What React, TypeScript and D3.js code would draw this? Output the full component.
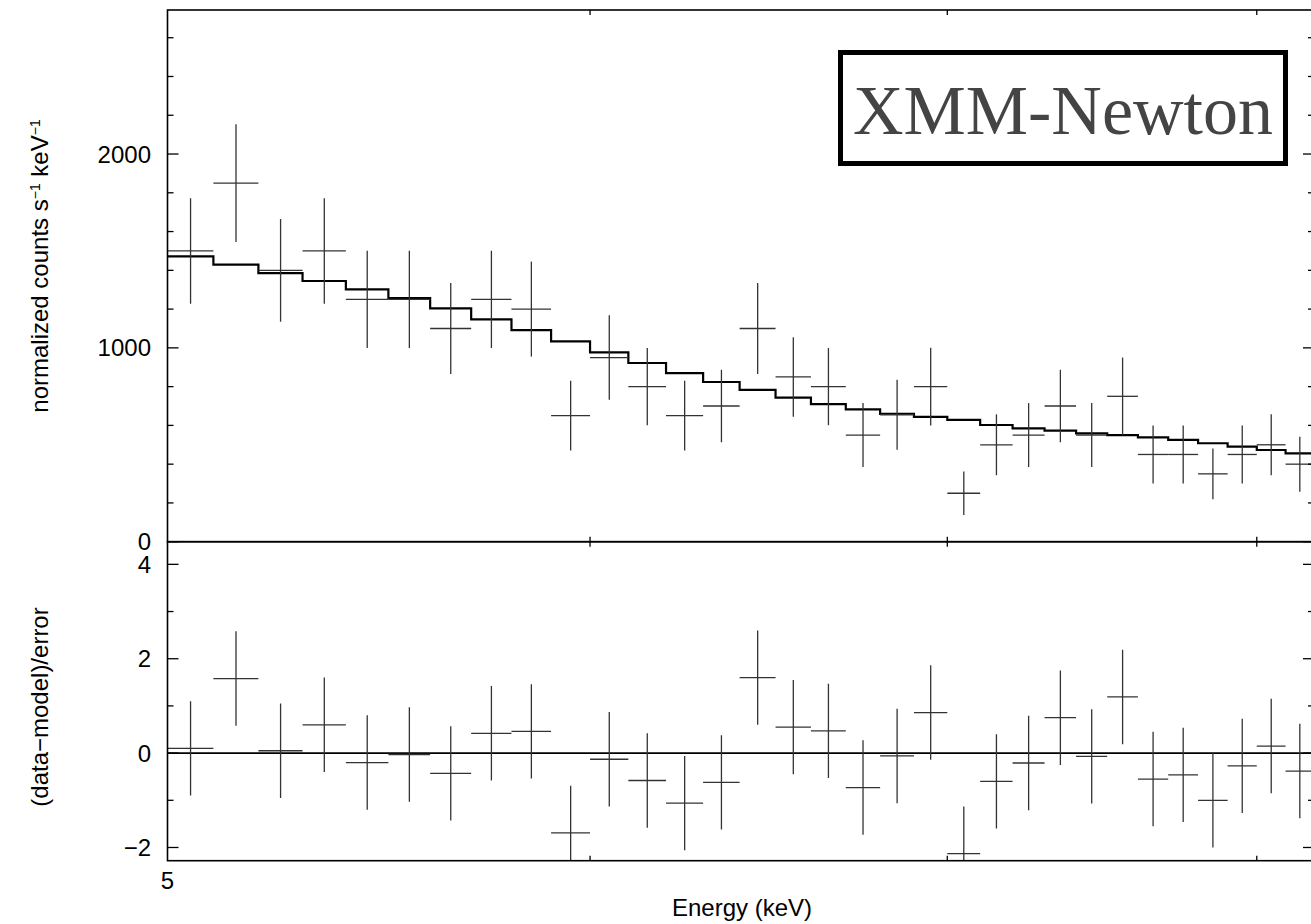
import React from "react";
import * as d3 from "d3";

// ---- data ----
const binCenters = [5.05, 5.15, 5.25, 5.35, 5.45, 5.55, 5.65, 5.75, 5.85, 5.95, 6.05, 6.15, 6.25, 6.35, 6.45, 6.55, 6.65, 6.75, 6.85, 6.95, 7.05, 7.15, 7.25, 7.35, 7.45, 7.55, 7.65, 7.75, 7.85, 7.95, 8.05, 8.15];
const binHalfWidth = 0.05;
const counts = [1500, 1850, 1400, 1500, 1250, 1250, 1100, 1250, 1200, 650, 950, 800, 650, 700, 1100, 850, 800, 550, 655, 800, 250, 500, 550, 700, 550, 750, 450, 450, 350, 450, 500, 400];
const countErr = [272, 304, 265, 272, 251, 251, 235, 251, 245, 180, 218, 199, 180, 187, 235, 205, 199, 165, 180, 200, 112, 157, 165, 187, 165, 200, 150, 150, 131, 150, 157, 142];
const model = [1472, 1429, 1386, 1345, 1302, 1257, 1204, 1147, 1092, 1033, 977, 922, 870, 824, 783, 743, 710, 683, 659, 644, 628, 602, 585, 573, 559, 550, 538, 525, 508, 490, 473, 456];
const residuals = [0.1, 1.58, 0.05, 0.6, -0.2, -0.03, -0.43, 0.42, 0.46, -1.69, -0.13, -0.58, -1.06, -0.62, 1.6, 0.55, 0.47, -0.73, -0.06, 0.86, -2.13, -0.6, -0.21, 0.75, -0.07, 1.19, -0.55, -0.46, -1.0, -0.27, 0.15, -0.38];
const residualErr = 1;

const xDomain = [5, 8.2];
const topDomain = [0, 2743];
const botDomain = [-2.28, 4.48];
const topMajor = [0, 1000, 2000];
const topMinor = [200, 400, 600, 800, 1200, 1400, 1600, 1800, 2200, 2400, 2600];
const botMajor = [-2, 0, 2, 4];
const botMinor = [-1, 1, 3];
const botLabels = ["−2", "0", "2", "4"];
const xTicks = [6, 7, 8];
const xLabelTicks = [5];

const W = 1311;
const H = 924;
const L = 167.5;
const R = 1314;
const T = 10;
const MID = 541.7;
const B = 860.7;

const x = d3.scaleLog().domain(xDomain).range([L, R]);
const yTop = d3.scaleLinear().domain(topDomain).range([MID, T]);
const yBot = d3.scaleLinear().domain(botDomain).range([B, MID]);

const FONT = "'Liberation Sans', Arial, Helvetica, sans-serif";
const FS = 24;

export default function App() {
  const stepPts: [number, number][] = binCenters.map((c, i) => [c - binHalfWidth, model[i]]);
  stepPts.push([binCenters[binCenters.length - 1] + binHalfWidth, model[model.length - 1]]);
  const stepLine = d3
    .line<[number, number]>()
    .x((d) => x(d[0]))
    .y((d) => yTop(d[1]))
    .curve(d3.curveStepAfter);

  const crossStroke = "#333";
  const crossW = 1.3;

  const yTicks = (
    scale: d3.ScaleLinear<number, number>,
    major: number[],
    minor: number[]
  ) => (
    <g stroke="#000" strokeWidth={1.3}>
      {major.map((v) => (
        <g key={"M" + v}>
          <line x1={L} x2={L + 11} y1={scale(v)} y2={scale(v)} />
          <line x1={R} x2={R - 11} y1={scale(v)} y2={scale(v)} />
        </g>
      ))}
      {minor.map((v) => (
        <g key={"m" + v}>
          <line x1={L} x2={L + 6} y1={scale(v)} y2={scale(v)} />
          <line x1={R} x2={R - 6} y1={scale(v)} y2={scale(v)} />
        </g>
      ))}
    </g>
  );

  const xTickMarks = (
    <g stroke="#000" strokeWidth={1.3}>
      {xTicks.map((v) => (
        <g key={v}>
          <line x1={x(v)} x2={x(v)} y1={T} y2={T + 5} />
          <line x1={x(v)} x2={x(v)} y1={MID} y2={MID - 5} />
          <line x1={x(v)} x2={x(v)} y1={MID} y2={MID + 5} />
          <line x1={x(v)} x2={x(v)} y1={B} y2={B - 5} />
        </g>
      ))}
    </g>
  );

  return (
    <svg
      width={W}
      height={H}
      style={{ position: "absolute", left: 0, top: 0, background: "#fff" }}
      fontFamily={FONT}
    >
      <defs>
        <clipPath id="clipTop">
          <rect x={L} y={T} width={R - L} height={MID - T} />
        </clipPath>
        <clipPath id="clipBot">
          <rect x={L} y={MID} width={R - L} height={B - MID} />
        </clipPath>
      </defs>
      <rect x={0} y={0} width={W} height={H} fill="#fff" />

      {/* top panel data */}
      <g clipPath="url(#clipTop)">
        <path d={stepLine(stepPts) || ""} fill="none" stroke="#000" strokeWidth={2.2} />
        <g stroke={crossStroke} strokeWidth={crossW}>
          {binCenters.map((c, i) => (
            <g key={i}>
              <line x1={x(c - binHalfWidth)} x2={x(c + binHalfWidth)} y1={yTop(counts[i])} y2={yTop(counts[i])} />
              <line x1={x(c)} x2={x(c)} y1={yTop(counts[i] - countErr[i])} y2={yTop(counts[i] + countErr[i])} />
            </g>
          ))}
        </g>
      </g>

      {/* bottom panel data */}
      <g clipPath="url(#clipBot)">
        <line x1={L} x2={R} y1={yBot(0)} y2={yBot(0)} stroke="#000" strokeWidth={1.6} />
        <g stroke={crossStroke} strokeWidth={crossW}>
          {binCenters.map((c, i) => (
            <g key={i}>
              <line x1={x(c - binHalfWidth)} x2={x(c + binHalfWidth)} y1={yBot(residuals[i])} y2={yBot(residuals[i])} />
              <line x1={x(c)} x2={x(c)} y1={yBot(residuals[i] - residualErr)} y2={yBot(residuals[i] + residualErr)} />
            </g>
          ))}
        </g>
      </g>

      {/* frames */}
      <rect x={L} y={T} width={R - L} height={MID - T} fill="none" stroke="#000" strokeWidth={1.6} />
      <rect x={L} y={MID} width={R - L} height={B - MID} fill="none" stroke="#000" strokeWidth={1.6} />
      {yTicks(yTop, topMajor, topMinor)}
      {yTicks(yBot, botMajor, botMinor)}
      {xTickMarks}

      {/* tick labels */}
      <g fontSize={FS} fill="#000" textAnchor="end" dominantBaseline="central">
        {topMajor.map((v) => (
          <text key={"t" + v} x={151} y={yTop(v)}>
            {String(v)}
          </text>
        ))}
        {botMajor.map((v, i) => (
          <text key={"b" + v} x={151} y={yBot(v)}>
            {botLabels[i]}
          </text>
        ))}
      </g>
      <g fontSize={FS} fill="#000" textAnchor="middle" dominantBaseline="central">
        {xLabelTicks.map((v) => (
          <text key={v} x={x(v)} y={880}>
            {String(v)}
          </text>
        ))}
      </g>

      {/* axis titles */}
      <text x={742} y={916} fontSize={FS} textAnchor="middle">
        Energy (keV)
      </text>
      <text
        transform="translate(48,266) rotate(-90)"
        fontSize={FS}
        textAnchor="middle"
      >
        normalized counts s
        <tspan dy={-8} fontSize={14}>−1</tspan>
        <tspan dy={8}> keV</tspan>
        <tspan dy={-8} fontSize={14}>−1</tspan>
      </text>
      <text
        transform="translate(48,707) rotate(-90)"
        fontSize={FS}
        textAnchor="middle"
      >
        (data−model)/error
      </text>

      {/* label box */}
      <rect x={840.5} y={52.5} width={445} height={111} fill="#fff" stroke="#000" strokeWidth={5} />
      <text
        x={1063}
        y={134}
        fontSize={70}
        textAnchor="middle"
        fill="#444"
        fontFamily="'Liberation Serif', 'Times New Roman', serif"
      >
        XMM-Newton
      </text>
    </svg>
  );
}
